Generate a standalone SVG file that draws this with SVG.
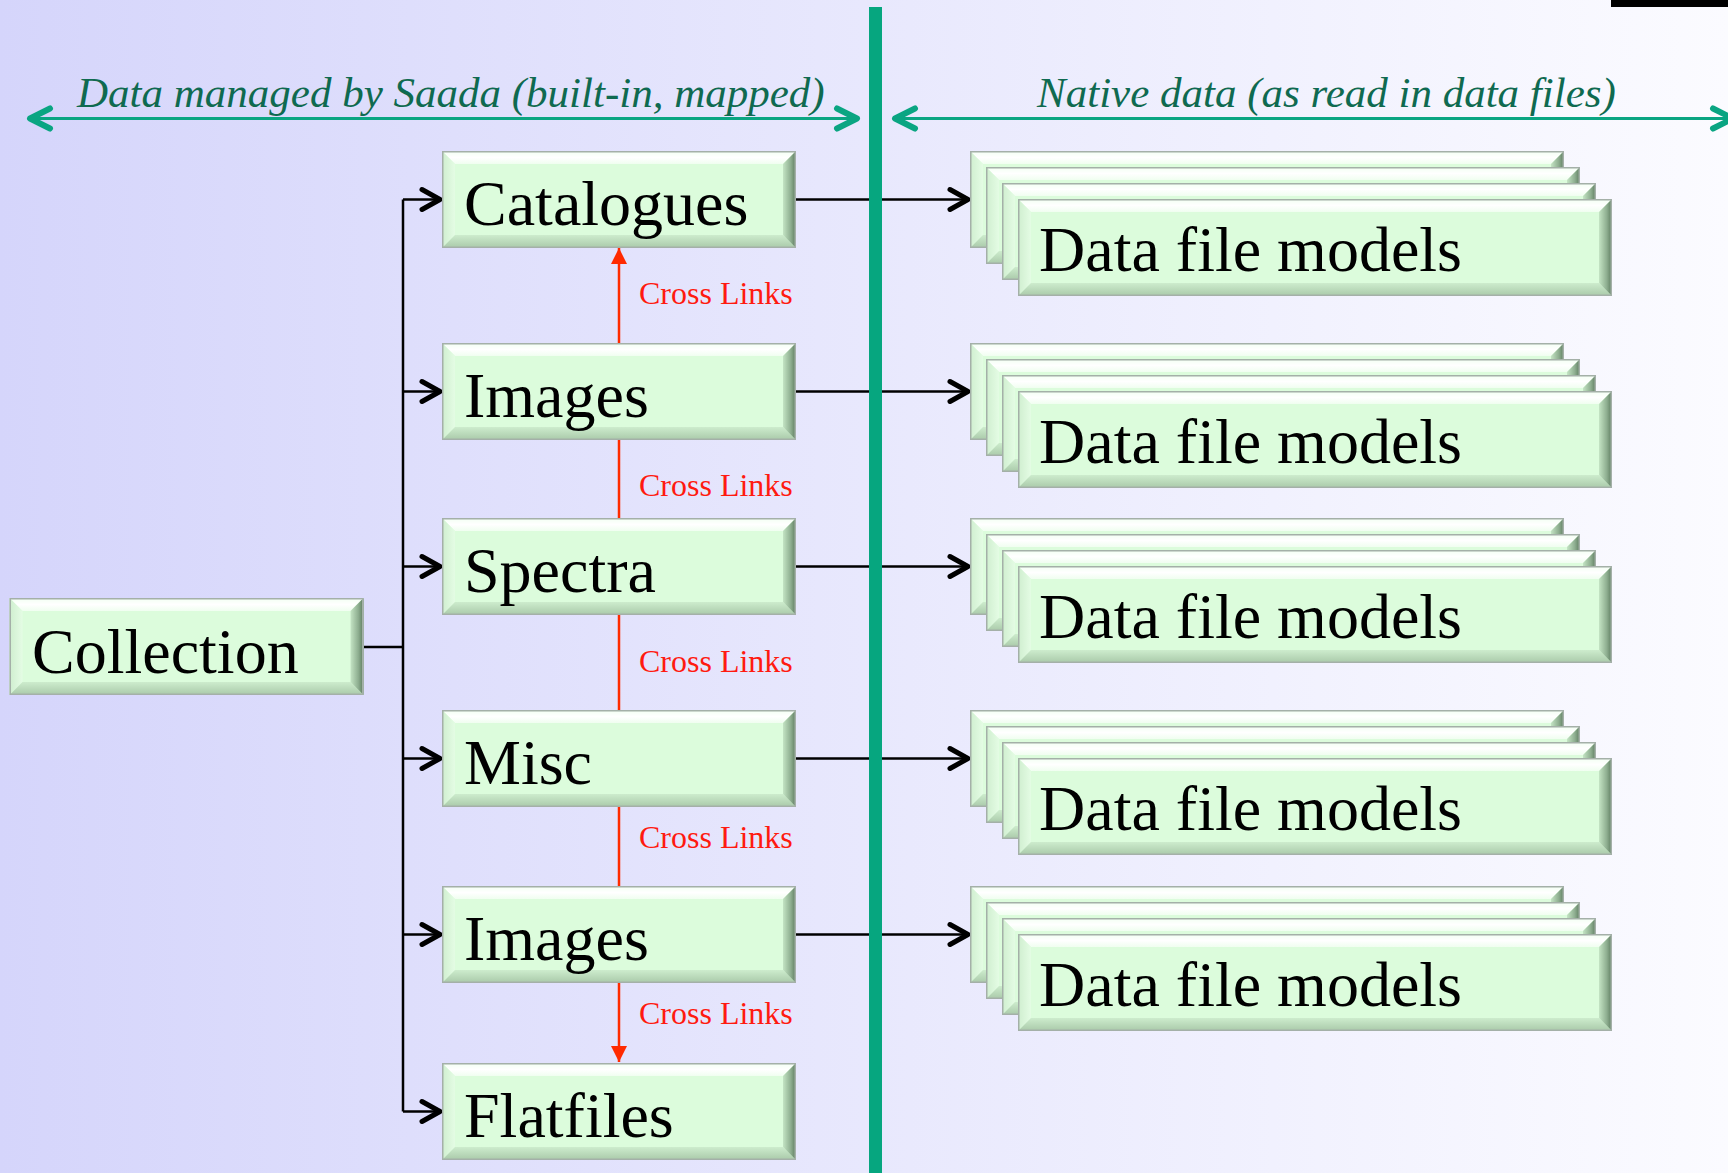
<svg xmlns="http://www.w3.org/2000/svg" xmlns:xlink="http://www.w3.org/1999/xlink" width="1728" height="1173" viewBox="0 0 1728 1173">
  <defs>
    <linearGradient id="bg" x1="0" y1="0" x2="1" y2="0">
      <stop offset="0" stop-color="#d5d5fb"/>
      <stop offset="1" stop-color="#fbfbff"/>
    </linearGradient>
    <!-- bevel faces -->
    <linearGradient id="bevTop" x1="0" y1="0" x2="0" y2="1">
      <stop offset="0" stop-color="#f2fff2"/>
      <stop offset="0.5" stop-color="#ffffff"/>
      <stop offset="1" stop-color="#f0fef0"/>
    </linearGradient>
    <linearGradient id="bevRight" x1="0" y1="0" x2="1" y2="0">
      <stop offset="0" stop-color="#c4e4c4"/>
      <stop offset="0.6" stop-color="#8eae90"/>
      <stop offset="1" stop-color="#5c7a5e"/>
    </linearGradient>
    <linearGradient id="bevBottom" x1="0" y1="0" x2="0" y2="1">
      <stop offset="0" stop-color="#cdeccd"/>
      <stop offset="1" stop-color="#a9c9a9"/>
    </linearGradient>
    <linearGradient id="bevLeft" x1="0" y1="0" x2="1" y2="0">
      <stop offset="0" stop-color="#cfeecf"/>
      <stop offset="1" stop-color="#e4fce4"/>
    </linearGradient>

    <symbol id="bev-s" viewBox="0 0 354 97">
      <rect x="0" y="0" width="354" height="97" fill="#dcfcdc"/>
      <polygon points="0,0 354,0 341,13 13,13" fill="url(#bevTop)"/>
      <polygon points="0,0 13,13 13,84 0,97" fill="url(#bevLeft)"/>
      <polygon points="0,97 13,84 341,84 354,97" fill="url(#bevBottom)"/>
      <polygon points="354,0 354,97 341,84 341,13" fill="url(#bevRight)"/>
      <rect x="0.75" y="0.75" width="352.5" height="95.5" fill="none" stroke="#a4b0a8" stroke-width="1.5"/>
    </symbol>
    <symbol id="bev-l" viewBox="0 0 594 97">
      <rect x="0" y="0" width="594" height="97" fill="#dcfcdc"/>
      <polygon points="0,0 594,0 581,13 13,13" fill="url(#bevTop)"/>
      <polygon points="0,0 13,13 13,84 0,97" fill="url(#bevLeft)"/>
      <polygon points="0,97 13,84 581,84 594,97" fill="url(#bevBottom)"/>
      <polygon points="594,0 594,97 581,84 581,13" fill="url(#bevRight)"/>
      <rect x="0.75" y="0.75" width="592.5" height="95.5" fill="none" stroke="#a4b0a8" stroke-width="1.5"/>
    </symbol>

    <marker id="chev" viewBox="-24 -14 28 28" markerWidth="28" markerHeight="28" refX="0" refY="0" orient="auto" markerUnits="userSpaceOnUse">
      <path d="M-18,-10 L0,0 L-18,10" fill="none" stroke="#000" stroke-width="5" stroke-linecap="round" stroke-linejoin="round"/>
    </marker>
    <marker id="chev-g" viewBox="-26 -16 30 32" markerWidth="30" markerHeight="32" refX="0" refY="0" orient="auto-start-reverse" markerUnits="userSpaceOnUse">
      <path d="M-20,-10 L0,0 L-20,10" fill="none" stroke="#0aa582" stroke-width="6" stroke-linecap="round" stroke-linejoin="round"/>
    </marker>
    <marker id="tri-r" viewBox="-18 -10 20 20" markerWidth="20" markerHeight="20" refX="0" refY="0" orient="auto" markerUnits="userSpaceOnUse">
      <path d="M-16,-8 L0,0 L-16,8 Z" fill="#ff2a00"/>
    </marker>
  </defs>

  <style>
    .label { font-family: "Liberation Serif", "Times New Roman", serif; font-size: 64px; fill: #000; }
    .title { font-family: "Liberation Serif", "Times New Roman", serif; font-size: 43px; font-style: italic; fill: #0f6a50; }
    .xlink { font-family: "Liberation Serif", "Times New Roman", serif; font-size: 32px; fill: #ff1a10; }
    .conn { fill: none; stroke: #000; stroke-width: 2.5; }
    .red { fill: none; stroke: #ff2a00; stroke-width: 2.5; }
    .span { fill: none; stroke: #0aa582; stroke-width: 3; }
  </style>

  <!-- background -->
  <rect x="0" y="0" width="1728" height="1173" fill="url(#bg)"/>
  <rect x="1611" y="0" width="117" height="7" fill="#000"/>

  <!-- scope headers -->
  <g id="headers">
    <path class="span" d="M30,118.5 H857" marker-start="url(#chev-g)" marker-end="url(#chev-g)"/>
    <path class="span" d="M895,118.5 H1733" marker-start="url(#chev-g)" marker-end="url(#chev-g)"/>
    <text class="title" x="77" y="107">Data managed by Saada (built-in, mapped)</text>
    <text class="title" x="1037" y="107">Native data (as read in data files)</text>
  </g>

  <!-- connectors -->
  <g id="connectors">
    <path class="conn" d="M364,647 H403"/>
    <path class="conn" d="M403,199.5 V1111.5" stroke-width="3"/>
    <path class="conn" d="M403,199.5 H440" marker-end="url(#chev)"/>
    <path class="conn" d="M403,391.5 H440" marker-end="url(#chev)"/>
    <path class="conn" d="M403,566.5 H440" marker-end="url(#chev)"/>
    <path class="conn" d="M403,758.5 H440" marker-end="url(#chev)"/>
    <path class="conn" d="M403,934.5 H440" marker-end="url(#chev)"/>
    <path class="conn" d="M403,1111.5 H440" marker-end="url(#chev)"/>

    <path class="conn" d="M796,199.5 H968" marker-end="url(#chev)"/>
    <path class="conn" d="M796,391.5 H968" marker-end="url(#chev)"/>
    <path class="conn" d="M796,566.5 H968" marker-end="url(#chev)"/>
    <path class="conn" d="M796,758.5 H968" marker-end="url(#chev)"/>
    <path class="conn" d="M796,934.5 H968" marker-end="url(#chev)"/>

    <path class="red" d="M619,343 V248" marker-end="url(#tri-r)"/>
    <path class="red" d="M619,440 V518"/>
    <path class="red" d="M619,614 V710"/>
    <path class="red" d="M619,806 V886"/>
    <path class="red" d="M619,983 V1062" marker-end="url(#tri-r)"/>
    <text class="xlink" x="639" y="304">Cross Links</text>
    <text class="xlink" x="639" y="496">Cross Links</text>
    <text class="xlink" x="639" y="672">Cross Links</text>
    <text class="xlink" x="639" y="848">Cross Links</text>
    <text class="xlink" x="639" y="1024">Cross Links</text>
  </g>

  <!-- boundary between managed and native data -->
  <rect x="869" y="7" width="13" height="1166" fill="#06a67f"/>

  <!-- managed data nodes -->
  <g id="collection">
    <use xlink:href="#bev-s" x="9" y="598" width="355" height="97"/>
    <text class="label" x="32" y="673">Collection</text>
  </g>
  <g id="catalogues">
    <use xlink:href="#bev-s" x="442" y="151" width="354" height="97"/>
    <text class="label" x="464" y="225">Catalogues</text>
  </g>
  <g id="images">
    <use xlink:href="#bev-s" x="442" y="343" width="354" height="97"/>
    <text class="label" x="464" y="417">Images</text>
  </g>
  <g id="spectra">
    <use xlink:href="#bev-s" x="442" y="518" width="354" height="97"/>
    <text class="label" x="464" y="592">Spectra</text>
  </g>
  <g id="misc">
    <use xlink:href="#bev-s" x="442" y="710" width="354" height="97"/>
    <text class="label" x="464" y="784">Misc</text>
  </g>
  <g id="images-2">
    <use xlink:href="#bev-s" x="442" y="886" width="354" height="97"/>
    <text class="label" x="464" y="960">Images</text>
  </g>
  <g id="flatfiles">
    <use xlink:href="#bev-s" x="442" y="1063" width="354" height="97"/>
    <text class="label" x="464" y="1137">Flatfiles</text>
  </g>

  <!-- native data file model stacks -->
  <g id="models-1">
    <use xlink:href="#bev-l" x="970" y="151" width="594" height="97"/>
    <use xlink:href="#bev-l" x="986" y="167" width="594" height="97"/>
    <use xlink:href="#bev-l" x="1002" y="183" width="594" height="97"/>
    <use xlink:href="#bev-l" x="1018" y="199" width="594" height="97"/>
    <text class="label" x="1039" y="271">Data file models</text>
  </g>
  <g id="models-2">
    <use xlink:href="#bev-l" x="970" y="343" width="594" height="97"/>
    <use xlink:href="#bev-l" x="986" y="359" width="594" height="97"/>
    <use xlink:href="#bev-l" x="1002" y="375" width="594" height="97"/>
    <use xlink:href="#bev-l" x="1018" y="391" width="594" height="97"/>
    <text class="label" x="1039" y="463">Data file models</text>
  </g>
  <g id="models-3">
    <use xlink:href="#bev-l" x="970" y="518" width="594" height="97"/>
    <use xlink:href="#bev-l" x="986" y="534" width="594" height="97"/>
    <use xlink:href="#bev-l" x="1002" y="550" width="594" height="97"/>
    <use xlink:href="#bev-l" x="1018" y="566" width="594" height="97"/>
    <text class="label" x="1039" y="638">Data file models</text>
  </g>
  <g id="models-4">
    <use xlink:href="#bev-l" x="970" y="710" width="594" height="97"/>
    <use xlink:href="#bev-l" x="986" y="726" width="594" height="97"/>
    <use xlink:href="#bev-l" x="1002" y="742" width="594" height="97"/>
    <use xlink:href="#bev-l" x="1018" y="758" width="594" height="97"/>
    <text class="label" x="1039" y="830">Data file models</text>
  </g>
  <g id="models-5">
    <use xlink:href="#bev-l" x="970" y="886" width="594" height="97"/>
    <use xlink:href="#bev-l" x="986" y="902" width="594" height="97"/>
    <use xlink:href="#bev-l" x="1002" y="918" width="594" height="97"/>
    <use xlink:href="#bev-l" x="1018" y="934" width="594" height="97"/>
    <text class="label" x="1039" y="1006">Data file models</text>
  </g>
</svg>
